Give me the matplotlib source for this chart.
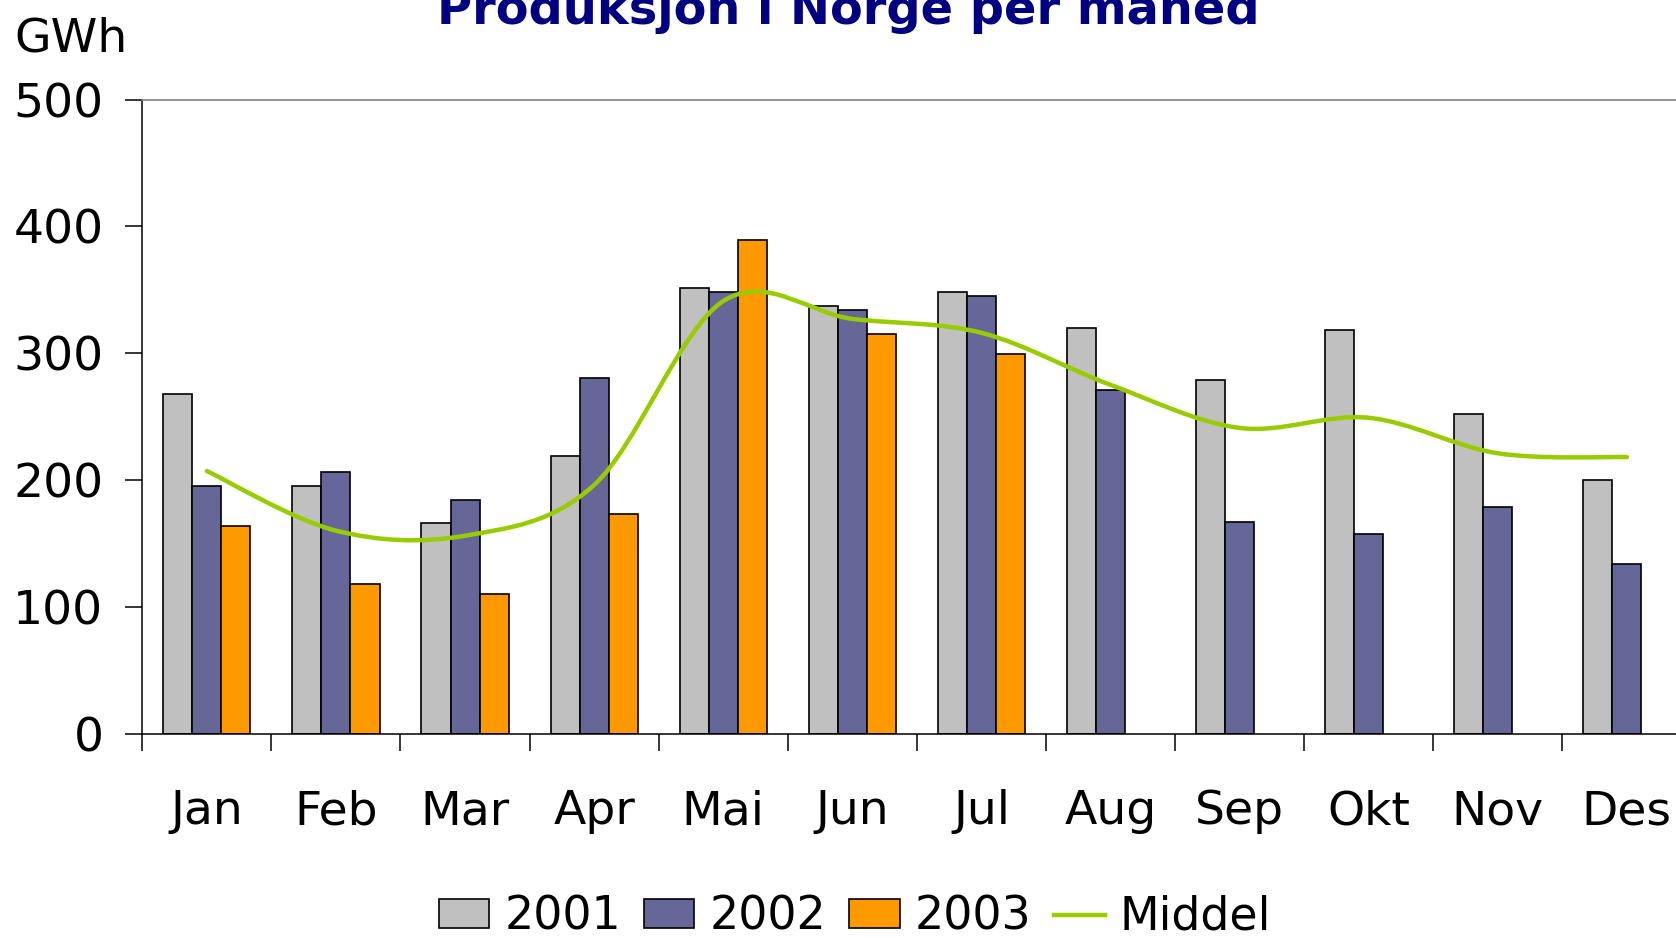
import numpy as np
import matplotlib
matplotlib.use('Agg')
import matplotlib.pyplot as plt
from matplotlib.path import Path
from matplotlib.patches import PathPatch

# Monthly production data (GWh)
months = ['Jan', 'Feb', 'Mar', 'Apr', 'Mai', 'Jun', 'Jul', 'Aug', 'Sep', 'Okt', 'Nov', 'Des']
y2001 = [268, 195, 166, 219, 351, 337, 348, 320, 279, 318, 252, 200]
y2002 = [195, 206, 184, 280, 348, 334, 345, 271, 167, 157, 179, 134]
y2003 = [164, 118, 110, 173, 389, 315, 299]
middel = [207, 160, 156, 196, 341, 327, 316, 275, 241, 249, 221, 218]

plt.rcParams['font.family'] = ['DejaVu Sans']

fig = plt.figure(figsize=(16.76, 9.38), dpi=100)
ax = fig.add_axes([0.0849, 0.218, 0.9243, 0.6759])

x = np.arange(len(months))
w = 0.225
bar_kw = dict(edgecolor='black', linewidth=1.2, zorder=2)
b1 = ax.bar(x - w, y2001, width=w, color='#C0C0C0', label='2001', **bar_kw)
b2 = ax.bar(x, y2002, width=w, color='#666699', label='2002', **bar_kw)
b3 = ax.bar(np.arange(len(y2003)) + w, y2003, width=w, color='#FF9900', label='2003', **bar_kw)

# Smoothed line (Catmull-Rom as cubic bezier, like Excel's smoothed line)
pts = np.column_stack([x, middel]).astype(float)
verts = [pts[0]]
codes = [Path.MOVETO]
n = len(pts)
for i in range(n - 1):
    p0 = pts[i - 1] if i > 0 else pts[i]
    p1 = pts[i]
    p2 = pts[i + 1]
    p3 = pts[i + 2] if i + 2 < n else pts[i + 1]
    verts += [p1 + (p2 - p0) / 6, p2 - (p3 - p1) / 6, p2]
    codes += [Path.CURVE4] * 3
ax.add_patch(PathPatch(Path(verts, codes), facecolor='none', edgecolor='#99CC00',
                       linewidth=3.2, capstyle='round', zorder=3))
ln, = ax.plot([], [], color='#99CC00', linewidth=3.2, label='Middel')

# Axes
ax.set_xlim(-0.5, 11.5)
ax.set_ylim(0, 500)
ax.set_yticks(range(0, 501, 100))
ax.set_xticks(np.arange(-0.5, 12, 1))
ax.set_xticklabels([])
ax.set_xticks(x, minor=True)
ax.set_xticklabels(months, minor=True)
ax.tick_params(axis='x', which='major', direction='out', length=12, width=1.1, color='black')
ax.tick_params(axis='x', which='minor', length=0, pad=40, labelsize=34)
ax.tick_params(axis='y', direction='out', length=12, width=1.1, pad=16, labelsize=34)

ax.spines['right'].set_visible(False)
ax.spines['top'].set_color('#808080')
ax.spines['top'].set_linewidth(1.2)
ax.spines['left'].set_linewidth(1.1)
ax.spines['bottom'].set_linewidth(1.1)

fig.text(0.506, 1 - 24 / 938, 'Produksjon i Norge per måned', ha='center', va='baseline',
         fontsize=34.5, fontweight='bold', color='#000080')
fig.text(14 / 1676, 1 - 52 / 938, 'GWh', ha='left', va='baseline', fontsize=34)

fig.legend(handles=[b1, b2, b3, ln], loc='center', bbox_to_anchor=(855 / 1676, 0.022),
           ncol=4, frameon=False, fontsize=33, handlelength=1.1, handleheight=0.6,
           handletextpad=0.33, columnspacing=0.5, borderaxespad=0, borderpad=0)

fig.savefig('out.png', dpi=100)
